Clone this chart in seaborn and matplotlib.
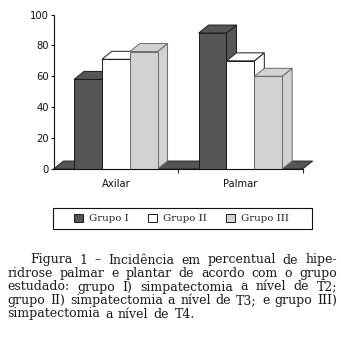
import numpy as np
import pandas as pd
import matplotlib
matplotlib.use("Agg")
import matplotlib.pyplot as plt
from matplotlib.patches import Polygon, Rectangle, Patch
import seaborn as sns

# ---- data ----
categorias = ["Axilar", "Palmar"]
grupos = ["Grupo I", "Grupo II", "Grupo III"]
grupo_I = [58, 88]
grupo_II = [71, 70]
grupo_III = [76, 60]
yticks = [0, 20, 40, 60, 80, 100]
cores = ["#555555", "#ffffff", "#d2d2d2"]
legenda_linhas = [
    "Figura 1 – Incidência em percentual de hipe-",
    "ridrose palmar e plantar de acordo com o grupo",
    "estudado: grupo I) simpatectomia a nível de T2;",
    "grupo II) simpatectomia a nível de T3; e grupo III)",
    "simpatectomia a nível de T4.",
]

df = pd.DataFrame({
    "local": categorias * 3,
    "grupo": sum([[g] * len(categorias) for g in grupos], []),
    "pct": grupo_I + grupo_II + grupo_III,
})

sns.set_style("ticks")
plt.rcParams["font.family"] = ["DejaVu Sans"]

W, H = 341, 342
fig = plt.figure(figsize=(W / 100, H / 100), dpi=100)

def fx(px):
    return px / W

def fy(py):
    return 1 - py / H

ax_left, ax_right = 53.5, 302.7
y0_px, y100_px = 169.0, 14.5
ax = fig.add_axes([fx(ax_left), fy(y0_px), (ax_right - ax_left) / W, (y0_px - y100_px) / H])

sns.barplot(data=df, x="local", y="pct", hue="grupo", hue_order=grupos,
            palette=cores, saturation=1, width=0.67, edgecolor="#1a1a1a",
            linewidth=0.7, legend=False, ax=ax, errorbar=None)

ax.set_xlim(-0.5, 1.5)
ax.set_ylim(0, 100)
ax.set_xlabel("")
ax.set_ylabel("")
ax.set_yticks(yticks)
ax.set_yticklabels([str(v) for v in yticks])
sns.despine(ax=ax)
for s in ["left", "bottom"]:
    ax.spines[s].set_linewidth(0.8)
    ax.spines[s].set_color("#111111")
ax.tick_params(axis="y", length=2.5, width=0.8, pad=0.8, labelsize=7.2, colors="#111111")
ax.set_xticks([0.5, 1.5], minor=True)
ax.tick_params(axis="x", which="minor", length=3, width=0.8, direction="out")
ax.tick_params(axis="x", which="major", length=0, pad=7, labelsize=7.2, colors="#111111")

# depth in data units (oblique 3D effect)
bb = ax.get_window_extent()
px_x = bb.width / 2.0
px_y = bb.height / 100.0
dx = 10 / px_x
dy = 8 / px_y

# floor
floor = Polygon([(-0.5, 0), (1.5, 0), (1.5 + dx, dy), (-0.5 + dx, dy)],
                closed=True, facecolor=cores[0], edgecolor="#1a1a1a", lw=0.6,
                zorder=1, clip_on=False)
ax.add_patch(floor)

bars = sorted(list(ax.patches)[:-1], key=lambda p: p.get_x())
z = 3
for p in bars:
    x0, w, h = p.get_x(), p.get_width(), p.get_height()
    fc = p.get_facecolor()
    ec = "#6a6a6a" if np.allclose(fc[:3], matplotlib.colors.to_rgb(cores[2])) else "#1a1a1a"
    p.set_edgecolor(ec)
    side = Polygon([(x0 + w, 0), (x0 + w + dx, dy), (x0 + w + dx, h + dy), (x0 + w, h)],
                   closed=True, facecolor=fc, edgecolor=ec, lw=0.7, zorder=z, clip_on=False)
    top = Polygon([(x0, h), (x0 + w, h), (x0 + w + dx, h + dy), (x0 + dx, h + dy)],
                  closed=True, facecolor=fc, edgecolor=ec, lw=0.7, zorder=z + 1, clip_on=False)
    ax.add_patch(side)
    ax.add_patch(top)
    p.set_zorder(z + 2)
    z += 3
ax.spines["bottom"].set_zorder(z + 1)

# legend box + legend
fig.patches.append(Rectangle((fx(53), fy(229)), (311.7 - 53) / W, 21 / H,
                             transform=fig.transFigure, fill=False,
                             edgecolor="#111111", lw=0.8))
handles = [Patch(facecolor=c, edgecolor="#1a1a1a", lw=0.7, label=g) for c, g in zip(cores, grupos)]
fig.legend(handles=handles, loc="center", bbox_to_anchor=(fx(181.5), fy(218.5)),
           ncol=3, frameon=False, prop={"family": "DejaVu Serif", "size": 7.4},
           handlelength=0.9, handleheight=0.9, handletextpad=0.6, columnspacing=1.8)

# caption, justified
fig.canvas.draw()
renderer = fig.canvas.get_renderer()
cap_font = {"family": "DejaVu Serif"}
probe = fig.text(0, 0, legenda_linhas[3], fontsize=10, **cap_font)
w10 = probe.get_window_extent(renderer).width
probe.remove()
fs = 10 * (337.0 - 7.3 - 10) / w10

baselines = [263.5, 277.0, 290.5, 304.0, 317.5]
lefts = [30.5, 7.3, 7.3, 7.3, 7.3]
right = 337.0
for i, (linha, yb, xl) in enumerate(zip(legenda_linhas, baselines, lefts)):
    words = linha.split(" ")
    texts = [fig.text(0, fy(yb), wd, fontsize=fs, va="baseline", ha="left",
                      color="#1a1a1a", **cap_font) for wd in words]
    widths = [t.get_window_extent(renderer).width for t in texts]
    if i < len(legenda_linhas) - 1:
        gap = (right - xl - sum(widths)) / (len(words) - 1)
    else:
        sp = fig.text(0, 0, "a a", fontsize=fs, **cap_font)
        sa = fig.text(0, 0, "aa", fontsize=fs, **cap_font)
        gap = 1.3 * (sp.get_window_extent(renderer).width - sa.get_window_extent(renderer).width)
        sp.remove(); sa.remove()
    x = xl
    for t, wd in zip(texts, widths):
        t.set_x(fx(x))
        x += wd + gap

fig.savefig("out.png", dpi=100)
